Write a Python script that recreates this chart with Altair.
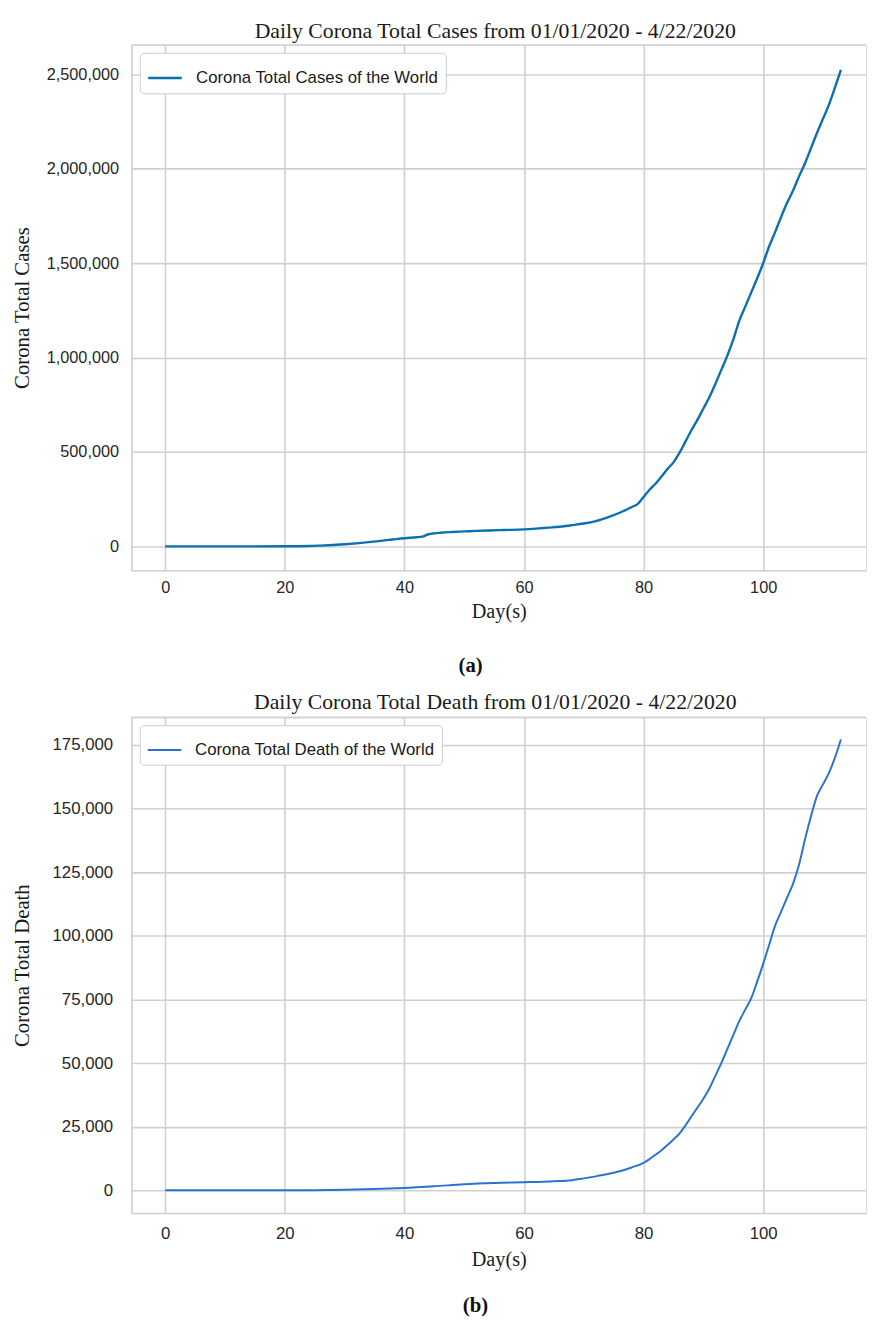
import altair as alt
import pandas as pd

# ---------------- data ----------------
CASE_DAYS = [0, 5, 10, 15, 20, 22, 24, 26, 28, 30, 32, 34, 36, 38, 40, 42, 43, 44, 45, 46,
             48, 50, 52, 54, 56, 58, 60, 62, 64, 66, 68, 70, 72, 74, 76, 78, 79, 80, 81,
             82, 83, 84, 85, 86, 87, 88, 89, 90, 91, 92, 93, 94, 95, 96, 97, 98, 99, 100,
             101, 102, 103, 104, 105, 106, 107, 108, 109, 110, 111, 112, 113]
CASE_VALUES = [0, 0, 0, 0, 300, 600, 1500, 4000, 7000, 11000, 16000, 22000, 29000, 36000,
               43000, 48000, 51000, 64000, 69000, 72000, 76000, 79000, 82000, 84000, 86000,
               87500, 90000, 94000, 99000, 104000, 112000, 121000, 134000, 154000, 178000,
               208000, 224000, 262000, 300000, 332000, 370000, 410000, 445000, 495000,
               555000, 615000, 670000, 730000, 790000, 860000, 935000, 1010000, 1095000,
               1195000, 1270000, 1345000, 1420000, 1500000, 1590000, 1665000, 1745000,
               1820000, 1885000, 1960000, 2030000, 2110000, 2190000, 2265000, 2340000,
               2430000, 2525000]

DEATH_DAYS = [0, 10, 20, 25, 30, 35, 40, 45, 50, 55, 60, 65, 68, 70, 72, 74, 76, 78, 80,
              81, 82, 83, 84, 85, 86, 87, 88, 89, 90, 91, 92, 93, 94, 95, 96, 97, 98, 99,
              100, 101, 102, 103, 104, 105, 106, 107, 108, 109, 110, 111, 112, 113]
DEATH_VALUES = [0, 0, 20, 60, 200, 500, 950, 1600, 2400, 2900, 3200, 3600, 4000, 4700,
                5500, 6400, 7500, 9000, 10800, 12300, 14000, 15800, 17800, 20000, 22300,
                25500, 29000, 32500, 36000, 40000, 45000, 50000, 55500, 61000, 66500,
                71000, 75500, 82000, 89000, 96500, 104000, 109500, 115000, 120500, 128000,
                138000, 147000, 155000, 159500, 164000, 170000, 177200]

X_TICKS = [0, 20, 40, 60, 80, 100]
CASE_TICKS = [0, 500000, 1000000, 1500000, 2000000, 2500000]
DEATH_TICKS = [0, 25000, 50000, 75000, 100000, 125000, 150000, 175000]

TITLE_A = "Daily Corona Total Cases from 01/01/2020 - 4/22/2020"
TITLE_B = "Daily Corona Total Death from 01/01/2020 - 4/22/2020"
SERIES_A = "Corona Total Cases of the World"
SERIES_B = "Corona Total Death of the World"
YTITLE_A = "Corona Total Cases"
YTITLE_B = "Corona Total Death"
XTITLE = "Day(s)"
CAPTION_A = "(a)"
CAPTION_B = "(b)"

# ---------------- styling ----------------
SERIF = "Liberation Serif"
SANS = "Liberation Sans"
GRID = "#d0d0d0"
PLOT_W = 744
X_DOMAIN = [-5.65, 117.2]


def panel(days, values, series, color, lw, title, ytitle, yticks, ydomain, height,
          ylab_pad, ylab_size, xlab_pad, xtitle_y, caption, cap_x, cap_y, title_y):
    df = pd.DataFrame({"day": days, "value": values, "series": series})
    one = pd.DataFrame({"k": [0]})

    line = alt.Chart(df).mark_line(strokeWidth=lw, interpolate="monotone").encode(
        x=alt.X("day:Q",
                scale=alt.Scale(domain=X_DOMAIN, nice=False, zero=False),
                axis=alt.Axis(values=X_TICKS, format="d", title=XTITLE, ticks=False,
                              labelFont=SANS, labelFontSize=ylab_size, labelColor="#262626",
                              labelPadding=xlab_pad, titleFont=SERIF, titleFontSize=20.5,
                              titleFontWeight="normal", titleColor="#1a1a1a",
                              titleY=xtitle_y, titleBaseline="middle",
                              grid=True, gridColor=GRID, gridWidth=1.6,
                              domainColor=GRID, domainWidth=1.6)),
        y=alt.Y("value:Q",
                scale=alt.Scale(domain=ydomain, nice=False, zero=False),
                axis=alt.Axis(values=yticks, format=",.0f", title=ytitle, ticks=False,
                              labelFont=SANS, labelFontSize=ylab_size, labelColor="#262626",
                              labelPadding=ylab_pad, titleFont=SERIF, titleFontSize=21,
                              titleFontWeight="normal", titleColor="#1a1a1a",
                              titleX=-110, titleBaseline="middle",
                              grid=True, gridColor=GRID, gridWidth=1.6,
                              domainColor=GRID, domainWidth=1.6)),
        color=alt.Color("series:N",
                        scale=alt.Scale(domain=[series], range=[color]),
                        legend=alt.Legend(title=None, orient="none", legendX=8.5, legendY=8,
                                          fillColor="white", strokeColor="#cccccc",
                                          cornerRadius=4, padding=7, labelLimit=0,
                                          labelFont=SANS, labelFontSize=17,
                                          labelColor="#1a1a1a", labelOffset=13,
                                          symbolType="stroke", symbolSize=1156,
                                          symbolStrokeWidth=lw)),
    )

    top_rule = alt.Chart(one).mark_rule(color=GRID, strokeWidth=1.6).encode(
        y=alt.value(0))

    heading = alt.Chart(one).mark_text(font=SERIF, fontSize=22, color="#1a1a1a",
                                       baseline="middle", align="center").encode(
        x=alt.value(368.5), y=alt.value(title_y), text=alt.value(title))

    cap = alt.Chart(one).mark_text(font=SERIF, fontSize=21, fontWeight="bold",
                                   color="#111111", baseline="middle", align="center").encode(
        x=alt.value(cap_x), y=alt.value(cap_y), text=alt.value(caption))

    return alt.layer(top_rule, line, heading, cap).properties(width=PLOT_W, height=height)


chart_a = panel(CASE_DAYS, CASE_VALUES, SERIES_A, "#0a70b0", 2.4, TITLE_A, YTITLE_A,
                CASE_TICKS, [-126600, 2656400], 532, 13, 16.5, 10, 42, CAPTION_A,
                343.5, 629, -14.3)
chart_b = panel(DEATH_DAYS, DEATH_VALUES, SERIES_B, "#2a72d2", 2.0, TITLE_B, YTITLE_B,
                DEATH_TICKS, [-8900, 185850], 502, 19, 17, 13, 47, CAPTION_B,
                348.5, 596, -15.5)

chart = alt.vconcat(chart_a, chart_b, spacing=14).resolve_scale(
    color="independent", x="independent", y="independent"
).properties(
    padding={"left": 3, "top": 3, "right": 0, "bottom": 0}
).configure_view(stroke=None).configure(background="white")

chart.save("out.html", embed_options={"renderer": "svg", "actions": False})
